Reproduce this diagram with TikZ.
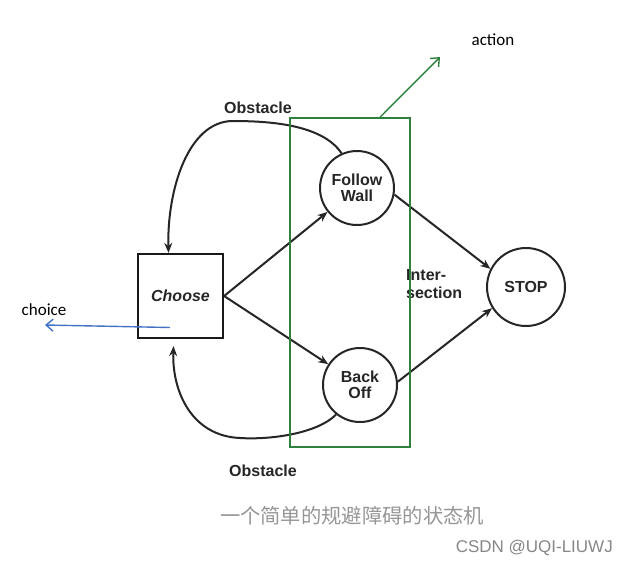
\documentclass[tikz,border=0pt]{standalone}
\usepackage{fontspec}
\setmainfont{Liberation Sans}
\newfontfamily\cjkfont{Noto Sans CJK SC}
\newfontfamily\calfont{Carlito}
\usetikzlibrary{arrows.meta}
\definecolor{boxgreen}{RGB}{46,128,62}
\definecolor{arrblue}{RGB}{68,114,196}
\definecolor{capgray}{RGB}{150,150,150}
\definecolor{wmgray}{RGB}{135,135,135}
\tikzset{
  state/.style={circle,draw=black!85,line width=2pt,minimum size=74pt,inner sep=0pt,align=center,
    font=\fontsize{16}{16.5}\selectfont\bfseries,text=black!85},
  choosebox/.style={rectangle,draw=black!90,line width=2.2pt,minimum width=85pt,minimum height=84pt,
    font=\fontsize{16}{17}\selectfont\bfseries\itshape,text=black!85},
  lbl/.style={font=\fontsize{16}{18}\selectfont\bfseries,text=black!85,inner sep=0pt},
  conn/.style={draw=black!85,line width=2pt,-{Stealth[length=10pt,width=8pt]}},
  note/.style={font=\calfont\fontsize{17}{20}\selectfont,inner sep=0pt},
}
\begin{document}
\begin{tikzpicture}[x=1pt,y=-1pt]
\useasboundingbox (0,0) rectangle (629,568);
\fill[white] (0,0) rectangle (629,568);
\node[choosebox] (choose) at (180.5,296) {Choose};
\node[state] (fw) at (357,188) {Follow\\Wall};
\node[state] (bo) at (360,385) {Back\\Off};
\node[state,minimum size=78pt] (stop) at (526,287) {STOP};
\node[lbl] (obs1) at (258,108) {Obstacle};
\node[lbl] (obs2) at (263,471) {Obstacle};
\node[lbl,align=left,anchor=west] (inter) at (406,284) {Inter-\\section};
% connectors
\draw[conn] (choose.east) -- (fw);
\draw[conn] (choose.east) -- (bo);
\draw[conn] (fw.-10) -- (stop.153);
\draw[conn] (bo.5) -- (stop.212);
\draw[conn] (fw.114) .. controls (322,124) and (268,121) .. (232,121)
  .. controls (188,122) and (167,190) .. ([xshift=-12pt]choose.north);
\draw[conn] (bo.231) .. controls (318,433) and (272,440) .. (240,438)
  .. controls (192,436) and (172,392) .. ([xshift=-7pt,yshift=-7pt]choose.south);
% green annotation
\node[draw=boxgreen,line width=1.5pt,minimum width=120pt,minimum height=329pt,inner sep=0pt] (gbox) at (350,282.5) {};
\coordinate (acttip) at (440,57);
\draw[boxgreen,line width=1.4pt,-{Straight Barb[length=7pt,width=12pt]}] ([xshift=30pt]gbox.north) -- (acttip);
\node[note] (action) at (493,40) {action};
% blue annotation
\coordinate (chstart) at (170,327.5);
\coordinate (chtip) at (45,325);
\draw[arrblue,line width=1.4pt,-{Straight Barb[length=7pt,width=12pt]}] (chstart) -- (chtip);
\node[note] (choice) at (44,310) {choice};
% caption
\node[font=\cjkfont\fontsize{20.3}{22}\selectfont,text=capgray,inner sep=0pt] (cap) at (352,516) {一个简单的规避障碍的状态机};
\node[font=\fontsize{17}{18}\selectfont,text=wmgray,anchor=east,inner sep=0pt] (wm) at (613,548) {CSDN @UQI-LIUWJ};
\end{tikzpicture}
\end{document}
